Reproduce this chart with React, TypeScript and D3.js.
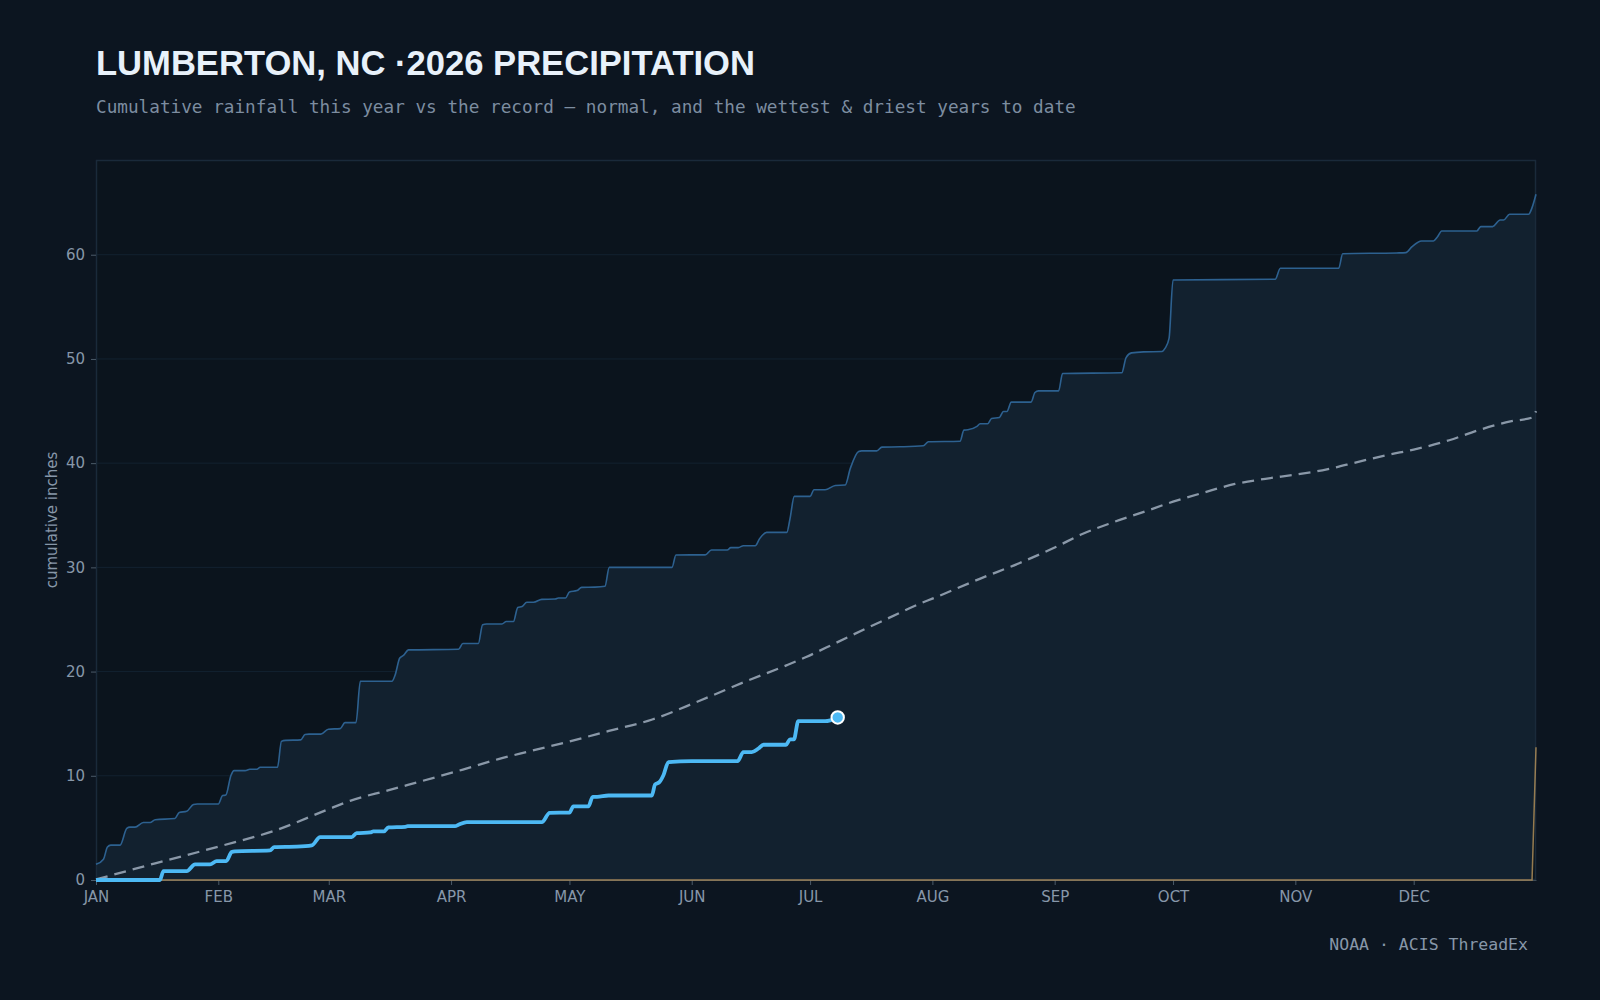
import React, { useEffect, useRef } from "react";
import * as d3 from "d3";

// ---- chart text ----
const TITLE = "LUMBERTON, NC ·2026 PRECIPITATION";
const SUBTITLE =
  "Cumulative rainfall this year vs the record — normal, and the wettest & driest years to date";
const SOURCE = "NOAA · ACIS ThreadEx";
const Y_LABEL = "cumulative inches";

const YEAR = 2026;

// ---- series: [day of year (0 = Jan 1), cumulative inches] ----
const WETTEST: [number, number][] = [
  [0, 1.5], [1.9, 2.0], [2.9, 3.16], [3.75, 3.35], [6.1, 3.35], [7.8, 4.95], [8.6, 5.07],
  [9.9, 5.07], [12, 5.52], [13.7, 5.52], [15, 5.78], [20, 5.9], [21.1, 6.48], [23, 6.6],
  [24.7, 7.25], [25.7, 7.3], [31, 7.3], [32.1, 8.1], [32.9, 8.15], [34.2, 10.03], [35, 10.5],
  [37.8, 10.5], [39, 10.63], [40.8, 10.63], [41.6, 10.82], [46, 10.82], [47, 13.3], [48, 13.4],
  [51.9, 13.45], [53, 13.96], [54, 14.0], [57, 14.0], [58.9, 14.47], [61.9, 14.53], [63.1, 15.1],
  [65.9, 15.1], [67, 19.07], [75, 19.07], [75.8, 19.65], [77, 21.3], [78, 21.57], [79.2, 22.08],
  [91.9, 22.14], [93, 22.7], [96.9, 22.7], [98, 24.5], [99, 24.57], [102.9, 24.57], [104, 24.8],
  [105.8, 24.8], [106.9, 26.15], [108, 26.25], [109.2, 26.65], [110.9, 26.65], [113, 26.93],
  [116.4, 26.96], [117.2, 27.06], [119, 27.06], [120, 27.64], [121.9, 27.77], [123.1, 28.08],
  [126.5, 28.1], [129, 28.18], [130.1, 30.0], [146, 30.0], [147, 31.19], [154.4, 31.2],
  [156, 31.67], [160, 31.67], [160.9, 31.89], [162.8, 31.89], [164.1, 32.08], [167.1, 32.08],
  [168.2, 32.75], [170, 33.36], [175.1, 33.36], [175.9, 34.64], [177, 36.81], [181, 36.81],
  [182, 37.45], [184.8, 37.45], [187.4, 37.86], [189.9, 37.9], [191.2, 39.5], [193.3, 41.12],
  [194.1, 41.18], [197.9, 41.18], [199.2, 41.54], [203.8, 41.57], [209.7, 41.67], [211, 42.05],
  [219, 42.1], [220, 43.17], [221, 43.2], [223.3, 43.52], [224.1, 43.78], [226, 43.78],
  [227, 44.29], [229, 44.39], [230, 44.96], [230.9, 44.96], [232, 45.86], [237, 45.86],
  [238, 46.78], [238.9, 46.94], [244, 46.94], [245, 48.6], [260, 48.67], [261.1, 50.13],
  [262.5, 50.58], [265.5, 50.68], [270.2, 50.71], [271, 51.03], [272, 52.0], [273, 57.58],
  [298.9, 57.65], [300.2, 58.7], [315, 58.7], [316, 60.1], [329.7, 60.17], [332, 60.2],
  [333.5, 60.75], [336, 61.32], [339, 61.32], [340, 61.7], [341.1, 62.28], [350, 62.28],
  [351, 62.7], [354, 62.7], [355.9, 63.33], [356.8, 63.33], [358.3, 63.88], [363.1, 63.88],
  [364, 64.52], [365, 65.8],
];

const DRIEST: [number, number][] = [[0, 0], [364, 0], [365, 12.74]];

const NORMAL: [number, number][] = [
  [0, 0.05], [15, 1.6], [31, 3.2], [45, 4.7], [59, 6.8], [64.4, 7.6], [74, 8.6], [93, 10.6],
  [102, 11.6], [110, 12.36], [120, 13.3], [130, 14.3], [141, 15.4], [153, 17.2], [165, 19.1],
  [175, 20.6], [180, 21.4], [187, 22.65], [195, 24.1], [201, 25.15], [209, 26.55], [212, 27.0],
  [224, 28.9], [234, 30.4], [243, 31.9], [250, 33.2], [257.6, 34.3], [265.4, 35.3], [273, 36.3],
  [281, 37.2], [288.7, 38.0], [296.4, 38.5], [304, 38.9], [312, 39.4], [319.7, 40.1],
  [327.5, 40.8], [334, 41.3], [343, 42.2], [350.7, 43.2], [358.5, 44.0], [364.2, 44.4], [365, 45.0],
];

const CURRENT: [number, number][] = [
  [0, 0], [16.2, 0], [17.1, 0.85], [23, 0.85], [25.1, 1.5], [28.9, 1.5], [30.6, 1.81], [33, 1.81],
  [34.4, 2.68], [35.2, 2.75], [44.1, 2.84], [45.2, 3.16], [50.9, 3.2], [54.7, 3.32], [56.8, 4.12],
  [64.8, 4.12], [66.1, 4.5], [69.5, 4.56], [70.3, 4.66], [73, 4.66], [74.1, 5.04], [78.4, 5.1],
  [79, 5.17], [91, 5.17], [91.9, 5.3], [94, 5.55], [113, 5.55], [115, 6.45], [120, 6.47],
  [121, 7.06], [124.8, 7.06], [125.9, 7.98], [127, 7.98], [129.9, 8.11], [140.9, 8.11],
  [141.7, 9.17], [142.8, 9.39], [143.8, 10.03], [145.1, 11.31], [151, 11.4], [162.6, 11.4],
  [164.1, 12.27], [166.2, 12.27], [167.9, 12.62], [169.2, 12.98], [174.9, 12.98], [175.9, 13.49],
  [176.9, 13.49], [178, 15.24], [184.8, 15.24], [188, 15.6],
];

const Y_TICKS = [0, 10, 20, 30, 40, 50, 60];

// ---- layout & palette ----
const W = 1600;
const H = 1000;
const M = { top: 160, right: 64, bottom: 120, left: 96 };

const C = {
  page: "#0c1520",
  plot: "#0b141d",
  band: "#12212f",
  grid: "#132230",
  frame: "#1a2a3a",
  wet: "#2d6190",
  normal: "#8a98a8",
  dry: "#b8945a",
  current: "#4db9f4",
  title: "#e8f1fa",
  sub: "#7d8da0",
  tick: "#8797a9",
};

const dayToDate = (d: number) => new Date(Date.UTC(YEAR, 0, 1) + d * 864e5);

export default function App() {
  const ref = useRef<SVGSVGElement>(null);

  useEffect(() => {
    document.body.style.margin = "0";
    document.body.style.background = C.page;
    const svg = d3.select(ref.current);
    svg.selectAll("*").remove();

    const yearStart = dayToDate(0);
    const yearEnd = new Date(Date.UTC(YEAR + 1, 0, 1));
    const x = d3.scaleUtc().domain([yearStart, yearEnd]).range([M.left, W - M.right]);
    const yMax = (d3.max(WETTEST, (d) => d[1]) as number) * 1.05;
    const y = d3.scaleLinear().domain([0, yMax]).range([H - M.bottom, M.top]);

    const px = (d: [number, number]) => x(dayToDate(d[0]));
    const py = (d: [number, number]) => y(d[1]);

    svg.append("rect").attr("width", W).attr("height", H).attr("fill", C.page);

    // titles
    svg
      .append("text")
      .attr("x", M.left)
      .attr("y", 75)
      .attr("font-family", "'Liberation Sans', Arial, sans-serif")
      .attr("font-weight", 700)
      .attr("font-size", 34.6)
      .attr("fill", C.title)
      .text(TITLE);
    svg
      .append("text")
      .attr("x", M.left)
      .attr("y", 112.5)
      .attr("font-family", "'DejaVu Sans Mono', monospace")
      .attr("font-size", 17.7)
      .attr("fill", C.sub)
      .text(SUBTITLE);

    // plot background
    const pw = W - M.left - M.right;
    const ph = H - M.top - M.bottom;
    svg
      .append("rect")
      .attr("x", M.left)
      .attr("y", M.top)
      .attr("width", pw)
      .attr("height", ph)
      .attr("fill", C.plot);

    // gridlines
    svg
      .append("g")
      .selectAll("line")
      .data(Y_TICKS.filter((t) => t > 0))
      .join("line")
      .attr("x1", M.left)
      .attr("x2", W - M.right)
      .attr("y1", (d) => y(d))
      .attr("y2", (d) => y(d))
      .attr("stroke", C.grid)
      .attr("stroke-width", 1);

    // wettest–driest envelope
    const curve = d3.curveMonotoneX;
    const upper = d3.line<[number, number]>().x(px).y(py).curve(curve)(WETTEST) as string;
    const lower = d3
      .line<[number, number]>()
      .x(px)
      .y(py)(DRIEST.slice().reverse()) as string;
    svg
      .append("path")
      .attr("d", upper + "L" + lower.slice(1) + "Z")
      .attr("fill", C.band);

    // frame
    svg
      .append("rect")
      .attr("x", M.left + 0.5)
      .attr("y", M.top + 0.5)
      .attr("width", pw - 1)
      .attr("height", ph - 1)
      .attr("fill", "none")
      .attr("stroke", C.frame)
      .attr("stroke-width", 1.5);

    // axes
    const yAxis = svg
      .append("g")
      .attr("transform", `translate(${M.left},0)`)
      .call(d3.axisLeft(y).tickValues(Y_TICKS).tickSize(5).tickSizeOuter(0).tickPadding(6));
    const xAxis = svg
      .append("g")
      .attr("transform", `translate(0,${H - M.bottom})`)
      .call(
        d3
          .axisBottom(x)
          .tickValues(d3.utcMonth.range(yearStart, yearEnd))
          .tickFormat((d) => d3.utcFormat("%b")(d as Date).toUpperCase())
          .tickSize(5)
          .tickSizeOuter(0)
          .tickPadding(6)
      );
    for (const g of [yAxis, xAxis]) {
      g.selectAll("text")
        .attr("font-family", "'DejaVu Sans', sans-serif")
        .attr("font-size", 15)
        .attr("fill", C.tick);
      g.selectAll("line").attr("stroke", "#4b5a68");
      g.attr("font-size", null).attr("font-family", null);
    }
    yAxis.select(".domain").remove();
    xAxis.select(".domain").attr("stroke", "#3d4a55");

    // lines
    const lineGen = d3.line<[number, number]>().x(px).y(py).curve(curve);
    svg
      .append("path")
      .attr("d", lineGen(WETTEST))
      .attr("fill", "none")
      .attr("stroke", C.wet)
      .attr("stroke-width", 1.6);
    svg
      .append("path")
      .attr("d", lineGen(NORMAL))
      .attr("fill", "none")
      .attr("stroke", C.normal)
      .attr("stroke-width", 2.3)
      .attr("stroke-dasharray", "12 7");
    svg
      .append("path")
      .attr("d", d3.line<[number, number]>().x(px).y(py)(DRIEST))
      .attr("fill", "none")
      .attr("stroke", C.dry)
      .attr("stroke-opacity", 0.8)
      .attr("stroke-width", 1.5);
    svg
      .append("path")
      .attr("d", lineGen(CURRENT))
      .attr("fill", "none")
      .attr("stroke", C.current)
      .attr("stroke-width", 3.8)
      .attr("stroke-linejoin", "round");

    const last = CURRENT[CURRENT.length - 1];
    svg
      .append("circle")
      .attr("cx", px(last))
      .attr("cy", py(last))
      .attr("r", 6.2)
      .attr("fill", C.current)
      .attr("stroke", "#ffffff")
      .attr("stroke-width", 2);

    // axis title
    svg
      .append("text")
      .attr("transform", `translate(57,${M.top + ph / 2}) rotate(-90)`)
      .attr("text-anchor", "middle")
      .attr("font-family", "'DejaVu Sans', sans-serif")
      .attr("font-size", 15)
      .attr("fill", C.tick)
      .text(Y_LABEL);

    // source
    svg
      .append("text")
      .attr("x", 1528)
      .attr("y", 950)
      .attr("text-anchor", "end")
      .attr("font-family", "'DejaVu Sans Mono', monospace")
      .attr("font-size", 16.5)
      .attr("fill", C.tick)
      .text(SOURCE);
  }, []);

  return (
    <svg
      ref={ref}
      width={W}
      height={H}
      style={{ display: "block", position: "absolute", left: 0, top: 0 }}
    />
  );
}
